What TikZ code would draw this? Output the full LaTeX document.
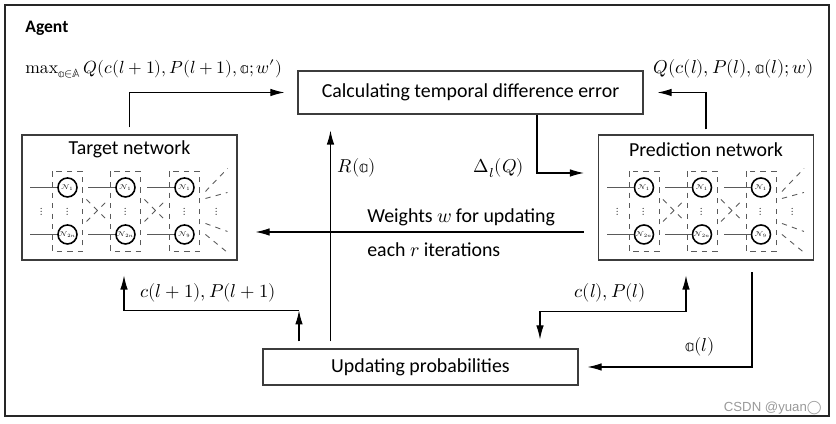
\documentclass[tikz,border=0pt]{standalone}
\usepackage{fontspec}
\usepackage{unicode-math}
\setmainfont{Carlito}
\setmathrm{Latin Modern Roman}
\newfontfamily\wmfont{Liberation Sans}
\newfontfamily\symfont{DejaVu Sans}
\usetikzlibrary{arrows.meta,positioning,calc}
\definecolor{boxgray}{RGB}{60,60,60}
\definecolor{netgray}{RGB}{90,90,90}
\tikzset{box/.style={draw=boxgray, line width=0.6pt, inner sep=0pt, align=center}, frame/.style={draw=black!85, line width=1.1pt, inner sep=0pt}, lbl/.style={inner sep=0pt}, mlbl/.style={inner sep=0pt, font=\fontsize{10.6}{12}\selectfont}, edge/.style={-{Latex[length=2.8mm,width=1.5mm]}, line width=0.6pt}, bedge/.style={{Latex[length=2.8mm,width=1.5mm]}-{Latex[length=2.8mm,width=1.5mm]}, line width=0.6pt}, neuron/.style={circle, draw=black, line width=0.9pt, minimum size=3.8mm, inner sep=0pt, font=\fontsize{4}{4}\selectfont}, grp/.style={draw=netgray, dashed, line width=0.5pt}, dline/.style={draw=netgray, dashed, line width=0.5pt}, nline/.style={draw=netgray, line width=0.6pt}, ndots/.style={inner sep=0pt, text=black, font=\fontsize{6}{6}\selectfont}}
% small network drawn inside a box node
\newcommand{\qnet}[1]{%
\begin{scope}[shift={(#1.north west)}]
\foreach \cx/\nb [count=\k] in {46/2n,104/2n,163/9}{
 \draw[grp] (\cx-15,37) rectangle (\cx+15,117);
 \node[neuron] (#1-t\k) at (\cx,53) {$\mathcal{N}_1$};
 \node[neuron] (#1-b\k) at (\cx,100) {$\mathcal{N}_{\nb}$};
 \node[ndots] (#1-d\k) at (\cx,77) {$\vdots$};
 \draw[nline] (#1-t\k.west) -- ++(-27,0); \draw[nline] (#1-b\k.west) -- ++(-27,0);
}
\foreach \gx in {76,134}{\draw[dline] (\gx-11,65) -- (\gx+11,87) (\gx-11,87) -- (\gx+11,65);}
\node[ndots] (#1-dl) at (20,77) {$\vdots$};
\node[ndots] (#1-dr) at (195,77) {$\vdots$};
\draw[dline] (184,57) -- (206,34) (184,64) -- (206,58) (184,89) -- (206,97) (184,100) -- (206,118);
\end{scope}}

\begin{document}
\begin{tikzpicture}[x=0.2mm,y=-0.2mm,font=\fontsize{11.3}{13.5}\selectfont]
\useasboundingbox (0,0) rectangle (836,424);
\node[frame,minimum width=164.8mm,minimum height=82.2mm] (agent) at (417,210.5) {};
\node[lbl,anchor=base west,font=\fontsize{10}{12}\selectfont\bfseries] (agentlbl) at (25,33) {Agent};
\node[box,minimum width=69mm,minimum height=8.6mm] (tderr) at (470.5,92.5) {Calculating temporal difference error};
\node[box,minimum width=43mm,minimum height=25mm] (target) at (129.5,197.5) {};
\node[lbl] (targetlbl) at ([yshift=-3mm]target.north) {Target network};
\node[box,minimum width=43mm,minimum height=25mm] (pred) at (706,197.5) {};
\node[lbl] (predlbl) at ([yshift=-3mm]pred.north) {Prediction network};
\node[box,minimum width=63mm,minimum height=7.2mm] (update) at (420.5,367) {Updating probabilities};
\qnet{target} \qnet{pred}
% labels
\node[mlbl,anchor=west,font=\fontsize{10}{12}\selectfont] (qmax) at (25,69) {$\max_{\mathbb{a}\in\mathbb{A}} Q(c(l+1),P(l+1),\mathbb{a};w')$};
\node[mlbl,anchor=west] (qpred) at (653,69) {$Q(c(l),P(l),\mathbb{a}(l);w)$};
\node[mlbl] (rlbl) at (357,168) {$R(\mathbb{a})$};
\node[mlbl] (dlbl) at (499,168) {$\Delta_l(Q)$};
\node[lbl,anchor=west] (wlbl) at (367,217) {Weights $w$ for updating};
\node[lbl,anchor=west] (itlbl) at (367,250) {each $r$ iterations};
\node[mlbl] (cnext) at (208,293) {$c(l+1),P(l+1)$};
\node[mlbl] (ccur) at (610,293) {$c(l),P(l)$};
\node[mlbl] (albl) at (700,347) {$\mathbb{a}(l)$};
\node[lbl,anchor=east,text=black!40,font=\wmfont\fontsize{7.5}{9}\selectfont] (wm) at (822,408) {CSDN @yuan{\symfont ◯}};
% connectors
\coordinate (cjoin) at ([xshift=-24.3mm,yshift=7.6mm]update.north);
\coordinate (cpjoin) at ([xshift=-4mm,yshift=-10.2mm]pred.south);
\draw[edge,shorten <=1.4mm,shorten >=2.6mm] (target.north) |- (tderr.west);
\draw[edge,shorten <=1mm,shorten >=2.8mm] (pred.north) |- (tderr.east);
\draw[edge,shorten <=1.4mm,shorten >=3.2mm] ([xshift=-18mm]update.north) -- ([xshift=-18mm]update.north |- tderr.south);
\draw[edge,shorten >=2.8mm] ([xshift=13.3mm]tderr.south) |- ([yshift=4.9mm]pred.west);
\draw[edge,shorten <=2.8mm,shorten >=3.6mm] ([yshift=-6.9mm]pred.west) -- ([yshift=-6.9mm]target.east);
\draw[edge,shorten <=1.4mm] ([xshift=-24.3mm]update.north) -- (cjoin);
\draw[edge,shorten >=3mm] (cjoin) -| ([xshift=-1.1mm]target.south);
\draw[bedge,shorten <=1.8mm,shorten >=3mm] ([xshift=23.9mm]update.north) |- (cpjoin) -- ([xshift=-4mm]pred.south);
\draw[edge,shorten <=2.3mm,shorten >=1.8mm] ([xshift=9.2mm]pred.south) |- (update.east);
\end{tikzpicture}
\end{document}
